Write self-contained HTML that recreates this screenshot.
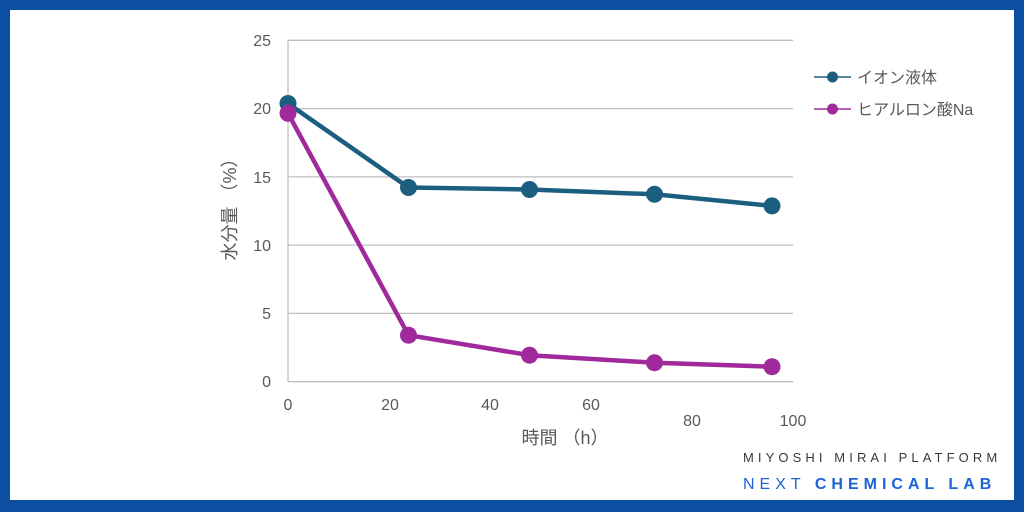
<!DOCTYPE html>
<html><head><meta charset="utf-8"><style>
html,body{margin:0;padding:0;}
body{width:1024px;height:512px;overflow:hidden;background:#fff;}
svg{display:block;}
</style></head><body>
<svg width="1024" height="512" viewBox="0 0 1024 512" xmlns="http://www.w3.org/2000/svg">
<rect x="0" y="0" width="1024" height="512" fill="#0b4ea2"/>
<rect x="10" y="10" width="1004" height="490" fill="#ffffff"/>
<g stroke="#bfbfbf" stroke-width="1.3">
<line x1="288" y1="40.3" x2="793" y2="40.3"/>
<line x1="288" y1="108.6" x2="793" y2="108.6"/>
<line x1="288" y1="176.9" x2="793" y2="176.9"/>
<line x1="288" y1="245.1" x2="793" y2="245.1"/>
<line x1="288" y1="313.4" x2="793" y2="313.4"/>
<line x1="288" y1="381.7" x2="793" y2="381.7"/>
<line x1="288" y1="40.3" x2="288" y2="381.7"/>
</g>
<g font-family="Liberation Sans, sans-serif" font-size="16" fill="#595959" text-anchor="end">
<text x="271" y="46">25</text>
<text x="271" y="114">20</text>
<text x="271" y="183">15</text>
<text x="271" y="251">10</text>
<text x="271" y="319">5</text>
<text x="271" y="387">0</text>
</g>
<g font-family="Liberation Sans, sans-serif" font-size="16" fill="#595959" text-anchor="middle">
<text x="288" y="410">0</text>
<text x="390" y="410">20</text>
<text x="490" y="410">40</text>
<text x="591" y="410">60</text>
<text x="692" y="426">80</text>
<text x="793" y="426">100</text>
</g>
<text x="565" y="444" font-family="Liberation Sans, 'Noto Sans CJK JP', sans-serif" font-size="18" fill="#595959" text-anchor="middle">時間 （h）</text>
<text transform="translate(236,205) rotate(-90)" font-family="Liberation Sans, 'Noto Sans CJK JP', sans-serif" font-size="18" fill="#595959" text-anchor="middle">水分量 （%）</text>
<polyline points="288,103.5 408.5,187.5 529.5,189.5 654.5,194.3 772,205.9" fill="none" stroke="#1b5e80" stroke-width="4.5" stroke-linejoin="round"/>
<g fill="#1b5e80">
<circle cx="288" cy="103.5" r="8.5"/><circle cx="408.5" cy="187.5" r="8.5"/><circle cx="529.5" cy="189.5" r="8.5"/><circle cx="654.5" cy="194.3" r="8.5"/><circle cx="772" cy="205.9" r="8.5"/>
</g>
<polyline points="288,113.3 408.5,335.2 529.5,355.2 654.5,362.7 772,366.7" fill="none" stroke="#a0299b" stroke-width="4.5" stroke-linejoin="round"/>
<g fill="#a0299b">
<circle cx="288" cy="113.3" r="8.5"/><circle cx="408.5" cy="335.2" r="8.5"/><circle cx="529.5" cy="355.2" r="8.5"/><circle cx="654.5" cy="362.7" r="8.5"/><circle cx="772" cy="366.7" r="8.5"/>
</g>
<line x1="814" y1="77" x2="851" y2="77" stroke="#1b5e80" stroke-width="1.5"/>
<circle cx="832.5" cy="77" r="5.5" fill="#1b5e80"/>
<line x1="814" y1="109" x2="851" y2="109" stroke="#a0299b" stroke-width="1.5"/>
<circle cx="832.5" cy="109" r="5.5" fill="#a0299b"/>
<g font-family="Liberation Sans, 'Noto Sans CJK JP', sans-serif" font-size="16" fill="#595959">
<text x="857" y="83">イオン液体</text>
<text x="857" y="115">ヒアルロン酸Na</text>
</g>
<text x="743" y="462" font-family="Liberation Sans, sans-serif" font-size="13" fill="#3a3a3a" letter-spacing="4.1">MIYOSHI MIRAI PLATFORM</text>
<text x="743" y="489" font-family="Liberation Sans, sans-serif" font-size="16" fill="#1a63d6" letter-spacing="5.0">NEXT <tspan font-weight="bold">CHEMICAL LAB</tspan></text>
</svg>
</body></html>
